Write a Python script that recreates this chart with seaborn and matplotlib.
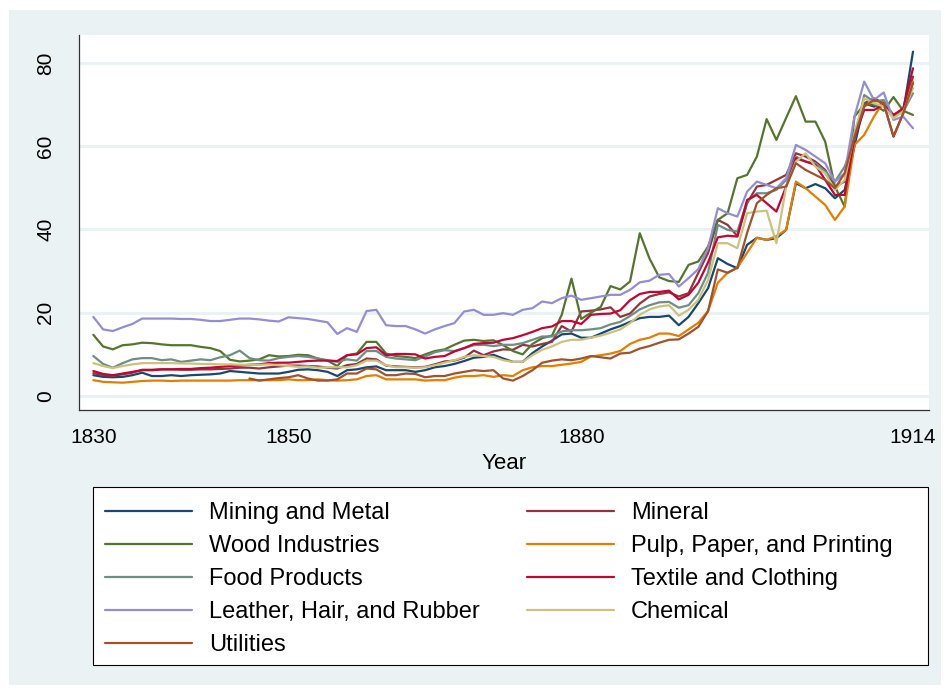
import numpy as np
import pandas as pd
import seaborn as sns
import matplotlib.pyplot as plt
from matplotlib.lines import Line2D
from matplotlib.patches import Rectangle

# yearly index values, 1830-1914
years = list(range(1830, 1915))

mining = [5.0, 4.6, 4.5, 4.6, 5.0, 5.6, 4.8, 4.8, 5.0, 4.8,
          5.0, 5.1, 5.2, 5.4, 6.0, 5.8, 5.6, 5.4, 5.4, 5.4,
          5.8, 6.3, 6.4, 6.2, 5.8, 4.8, 6.2, 6.4, 6.9, 7.1,
          6.2, 6.2, 6.2, 5.8, 6.2, 6.9, 7.2, 7.7, 8.4, 9.2,
          9.4, 9.9, 9.0, 8.2, 8.2, 10.3, 11.9, 13.3, 14.8, 15.0,
          14.0, 14.0, 15.0, 16.0, 16.8, 17.8, 18.7, 19.0, 19.0, 19.3,
          17.0, 19.0, 22.3, 25.9, 33.1, 31.7, 30.7, 36.3, 38.0, 37.5,
          37.9, 39.9, 51.1, 49.9, 50.9, 49.9, 47.5, 49.5, 60.0, 70.3,
          69.5, 70.3, 67.5, 68.3, 82.7]

mineral = [5.5, 5.0, 4.9, 5.2, 5.6, 6.3, 6.3, 6.4, 6.4, 6.3,
           6.3, 6.4, 6.4, 6.5, 6.6, 6.8, 6.8, 6.6, 6.9, 7.1,
           7.3, 7.3, 7.2, 7.1, 6.8, 6.6, 7.4, 7.7, 9.0, 8.8,
           7.3, 7.1, 7.0, 6.9, 7.0, 7.6, 8.3, 8.5, 9.2, 10.9,
           9.8, 10.7, 11.2, 11.1, 12.3, 11.9, 12.5, 13.0, 16.8, 15.5,
           20.3, 20.5, 20.8, 21.3, 19.0, 19.8, 22.2, 23.9, 24.5, 24.9,
           23.9, 24.7, 29.6, 34.4, 42.3, 41.1, 38.4, 46.3, 50.3, 50.7,
           51.9, 53.1, 58.3, 57.5, 56.3, 54.3, 50.3, 51.5, 63.1, 70.3,
           71.5, 70.3, 62.3, 67.9, 76.7]

wood = [14.7, 11.9, 11.2, 12.2, 12.4, 12.8, 12.7, 12.4, 12.2, 12.2,
        12.2, 11.8, 11.5, 10.8, 8.7, 8.3, 8.5, 8.8, 9.8, 9.5,
        9.6, 9.9, 9.8, 9.0, 8.5, 7.2, 9.8, 10.2, 13.0, 13.0,
        10.2, 9.6, 9.4, 9.1, 10.0, 10.8, 11.2, 12.3, 13.3, 13.5,
        13.2, 13.4, 12.2, 10.8, 10.0, 12.5, 13.9, 14.5, 19.5, 28.2,
        18.5, 20.0, 21.4, 26.4, 25.6, 27.5, 39.1, 33.0, 28.5, 27.6,
        27.4, 31.5, 32.3, 35.9, 42.3, 43.9, 52.3, 53.1, 57.5, 66.5,
        61.5, 66.8, 72.0, 65.9, 65.9, 61.1, 50.3, 45.5, 67.1, 70.0,
        70.0, 68.5, 71.8, 68.5, 67.5]

pulp = [3.8, 3.4, 3.3, 3.2, 3.4, 3.6, 3.7, 3.7, 3.6, 3.7,
        3.7, 3.7, 3.7, 3.7, 3.7, 3.8, 3.8, 3.8, 3.8, 3.8,
        4.0, 3.8, 3.8, 4.0, 3.8, 3.7, 3.8, 4.0, 4.8, 5.0,
        4.0, 4.0, 4.0, 4.0, 3.7, 3.8, 3.8, 4.4, 4.8, 4.8,
        5.0, 4.6, 5.0, 4.8, 6.2, 6.9, 7.2, 7.2, 7.5, 7.8,
        8.2, 9.5, 9.8, 10.2, 10.8, 12.5, 13.5, 14.0, 15.0, 15.0,
        14.4, 16.0, 17.6, 20.4, 27.2, 29.6, 30.8, 34.4, 38.0, 37.5,
        38.4, 39.9, 51.5, 49.9, 47.9, 45.9, 42.3, 45.5, 60.3, 62.7,
        67.1, 70.7, 67.5, 68.7, 75.5]

food = [9.6, 7.7, 6.8, 7.9, 8.8, 9.1, 9.1, 8.6, 8.8, 8.2,
        8.5, 8.8, 8.6, 9.3, 9.8, 10.9, 9.1, 8.6, 8.5, 9.1,
        9.4, 9.6, 9.4, 9.0, 8.6, 8.2, 8.8, 8.5, 10.8, 10.8,
        9.4, 9.0, 8.8, 8.6, 9.5, 10.5, 11.0, 10.8, 11.5, 12.2,
        12.3, 12.0, 12.3, 12.3, 12.7, 13.5, 14.3, 14.3, 15.5, 15.8,
        15.8, 16.0, 16.3, 17.2, 17.8, 19.2, 20.8, 21.8, 22.5, 22.6,
        21.2, 21.8, 24.7, 29.6, 41.1, 39.9, 39.5, 46.7, 48.7, 48.7,
        49.5, 51.9, 57.5, 56.3, 55.9, 53.9, 51.5, 55.1, 61.5, 72.3,
        70.7, 71.1, 67.1, 68.3, 72.7]

textile = [6.0, 5.3, 5.0, 5.4, 5.8, 6.2, 6.2, 6.4, 6.4, 6.5,
           6.5, 6.7, 6.8, 7.0, 7.2, 7.3, 7.5, 7.6, 7.9, 8.0,
           8.0, 8.2, 8.4, 8.5, 8.5, 8.4, 9.8, 10.0, 11.5, 11.7,
           9.8, 10.1, 10.1, 10.0, 9.0, 9.4, 9.6, 10.7, 11.5, 12.5,
           12.7, 12.8, 13.5, 13.9, 14.6, 15.4, 16.3, 16.7, 18.0, 18.0,
           17.3, 19.5, 19.7, 19.8, 20.6, 23.0, 24.5, 25.0, 25.0, 25.3,
           23.2, 24.3, 27.2, 32.1, 38.1, 38.5, 38.3, 47.1, 48.3, 46.3,
           44.3, 50.3, 57.1, 56.3, 55.5, 51.9, 48.3, 48.3, 62.0, 68.7,
           68.7, 69.9, 67.5, 69.1, 78.7]

leather = [19.0, 16.0, 15.6, 16.5, 17.3, 18.6, 18.6, 18.6, 18.6, 18.5,
           18.5, 18.3, 18.0, 18.0, 18.3, 18.6, 18.6, 18.4, 18.1, 17.9,
           18.9, 18.7, 18.5, 18.1, 17.7, 14.9, 16.3, 15.4, 20.4, 20.7,
           17.0, 16.8, 16.8, 16.0, 15.0, 16.0, 16.8, 17.5, 20.3, 20.7,
           19.5, 19.5, 19.9, 19.5, 20.7, 21.1, 22.7, 22.3, 23.5, 24.1,
           23.1, 23.5, 23.9, 24.3, 24.3, 25.5, 27.3, 27.7, 29.1, 29.3,
           26.3, 28.3, 30.5, 35.5, 45.1, 43.9, 43.1, 49.1, 51.5, 50.7,
           49.9, 52.3, 60.3, 59.1, 57.5, 55.9, 51.5, 53.5, 67.1, 75.5,
           71.1, 72.9, 66.3, 67.1, 64.3]

chemical = [7.9, 7.2, 6.7, 7.2, 7.6, 7.9, 7.9, 7.9, 7.9, 7.8,
            7.8, 7.7, 7.7, 7.6, 7.6, 7.5, 7.5, 7.5, 7.6, 7.4,
            7.2, 7.0, 7.1, 6.8, 6.9, 6.9, 6.9, 7.4, 8.5, 8.5,
            7.4, 6.9, 6.9, 6.8, 6.9, 7.4, 8.0, 8.6, 9.4, 9.8,
            9.6, 9.4, 8.6, 8.2, 8.2, 9.8, 11.1, 11.9, 13.0, 13.5,
            13.5, 14.0, 14.5, 15.2, 16.0, 17.5, 19.5, 20.8, 21.5, 21.8,
            19.3, 20.7, 23.1, 27.9, 36.7, 36.7, 35.5, 43.9, 44.3, 44.5,
            36.7, 50.3, 56.3, 58.3, 55.1, 53.5, 49.5, 51.9, 63.1, 71.5,
            70.3, 69.5, 66.7, 68.3, 73.9]

# utilities series only starts in 1846
utilities_start = 1846
utilities = [4.2, 3.7, 4.0, 4.3,
             4.5, 5.0, 4.2, 3.7, 3.7, 4.0, 5.4, 5.4, 6.6, 6.4,
             5.0, 5.0, 5.4, 5.3, 4.5, 4.8, 4.8, 5.4, 5.8, 6.2,
             6.0, 6.2, 4.2, 3.7, 4.8, 6.2, 8.0, 8.5, 8.8, 8.6,
             9.0, 9.6, 9.3, 9.0, 10.2, 10.4, 11.4, 12.0, 12.8, 13.5,
             13.6, 15.0, 16.6, 20.4, 30.4, 29.6, 30.8, 39.2, 46.3, 48.3,
             49.9, 50.3, 55.9, 54.3, 53.1, 51.9, 49.9, 53.5, 62.3, 69.5,
             71.1, 70.3, 62.3, 67.9, 75.1]

names = ["Mining and Metal", "Mineral", "Wood Industries", "Pulp, Paper, and Printing",
         "Food Products", "Textile and Clothing", "Leather, Hair, and Rubber",
         "Chemical", "Utilities"]
values = [mining, mineral, wood, pulp, food, textile, leather, chemical, utilities]
colors = ["#1a476f", "#90353b", "#55752f", "#e37e00", "#6e8e84",
          "#c10534", "#938dd2", "#cac27e", "#a0522d"]
palette = dict(zip(names, colors))

rows = []
for name, vals in zip(names, values):
    yrs = years if len(vals) == len(years) else list(range(utilities_start, 1915))
    for yr, v in zip(yrs, vals):
        rows.append({"year": yr, "value": v, "series": name})
df = pd.DataFrame(rows)

sns.set_style("white")
plt.rcParams['font.family'] = ['Liberation Sans', 'DejaVu Sans']
plt.rcParams['text.color'] = 'black'
plt.rcParams['axes.labelcolor'] = 'black'

W, H = 950, 691
fig = plt.figure(figsize=(9.5, 6.91), dpi=100)
fig.patch.set_facecolor("white")
bg = "#EAF2F3"
fig.patches.append(Rectangle((9 / W, 6 / H), 932 / W, 675 / H, transform=fig.transFigure,
                             facecolor=bg, edgecolor="none", zorder=-2))

ax = fig.add_axes([79 / W, 1 - 410 / H, 850 / W, 375 / H])
sns.lineplot(data=df, x="year", y="value", hue="series", hue_order=names,
             palette=palette, estimator=None, linewidth=1.6, legend=False, ax=ax)

ax.set_xlim(1828.53, 1915.64)
ax.set_ylim(-3.36, 86.7)
ax.set_xticks([1830, 1850, 1880, 1914])
ax.set_yticks([0, 20, 40, 60, 80])
ax.yaxis.grid(True, color=bg, linewidth=2.2)
ax.xaxis.grid(False)
ax.set_axisbelow(True)
for s in ["top", "right"]:
    ax.spines[s].set_visible(False)
for s in ["left", "bottom"]:
    ax.spines[s].set_color("#333333")
    ax.spines[s].set_linewidth(0.9)
ax.tick_params(axis="both", direction="out", length=6, width=0.9, color="#333333",
               labelsize=15, labelcolor="black")
ax.tick_params(axis="x", pad=7)
ax.tick_params(axis="y", pad=11)
for lab in ax.get_yticklabels():
    lab.set_rotation(90)
    lab.set_va("center")
ax.set_xlabel("Year", fontsize=16, labelpad=4, color="black")
ax.set_ylabel("")

# legend box with two columns (filled row-wise like the original)
fig.patches.append(Rectangle((93 / W, 1 - 665 / H), 835 / W, 178 / H, transform=fig.transFigure,
                             facecolor="white", edgecolor="black", linewidth=0.8, zorder=1))
col1 = ["Mining and Metal", "Wood Industries", "Food Products",
        "Leather, Hair, and Rubber", "Utilities"]
col2 = ["Mineral", "Pulp, Paper, and Printing", "Textile and Clothing", "Chemical"]
kw = dict(loc="upper left", frameon=False, fontsize=17, handlelength=3.7,
          handletextpad=0.7, labelspacing=0.47, borderpad=0, borderaxespad=0,
          labelcolor="black")
for col, x0 in [(col1, 105), (col2, 527)]:
    handles = [Line2D([], [], color=palette[n], linewidth=1.6) for n in col]
    leg = fig.legend(handles, col, bbox_to_anchor=(x0 / W, 1 - 502 / H), **kw)
    leg.set_zorder(2)

fig.savefig("out.png", dpi=100, facecolor=fig.get_facecolor())
